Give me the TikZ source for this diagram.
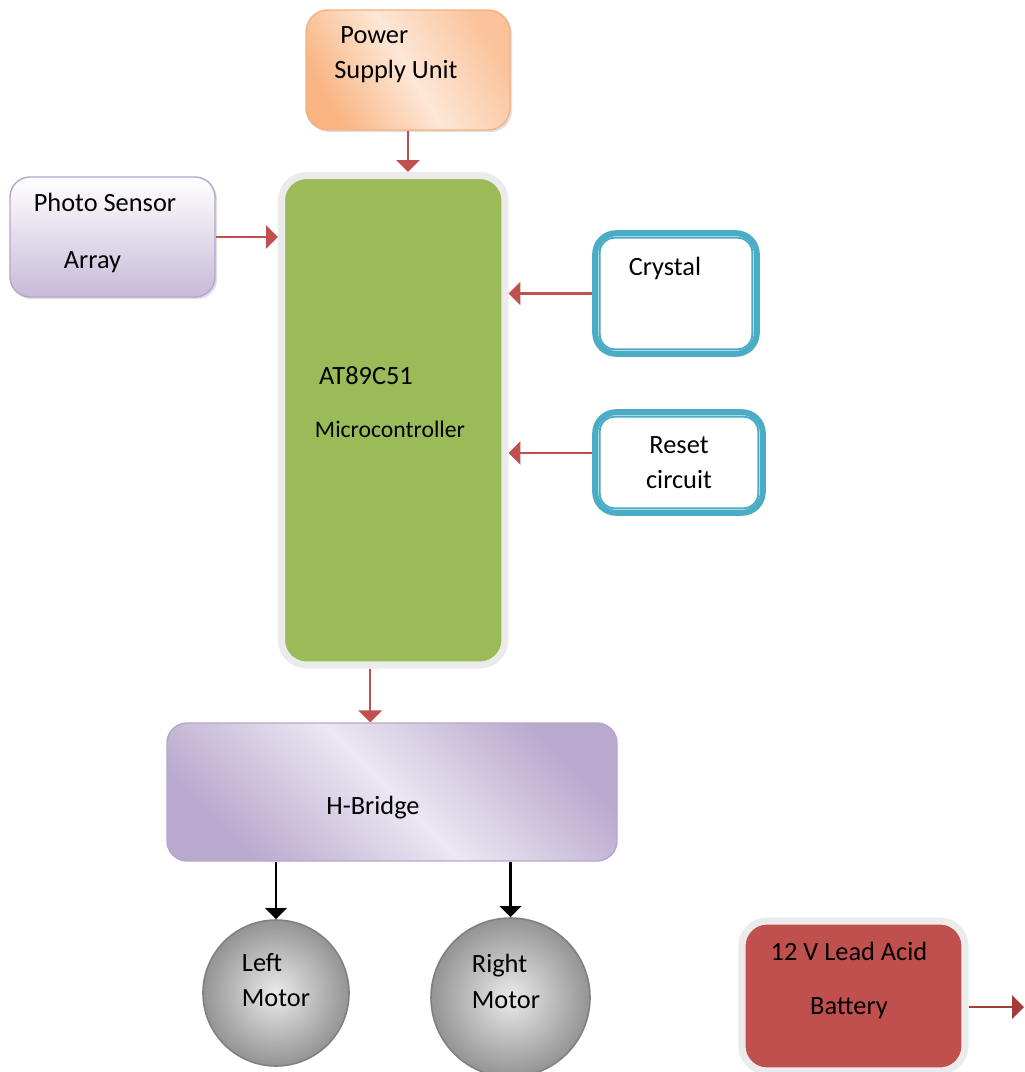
\documentclass[tikz,border=0pt]{standalone}
\usepackage{fontspec}
\setmainfont{Carlito}
\usepackage{tikz}
\usetikzlibrary{arrows,shadows,calc}

\definecolor{psuorange}{HTML}{F9B482}
\definecolor{psulight}{HTML}{FDE7D6}
\definecolor{psuedge}{HTML}{F4B183}
\definecolor{lavdark}{HTML}{B9A9CF}
\definecolor{lavlight}{HTML}{ECE7F2}
\definecolor{lavedge}{HTML}{B7A6CC}
\definecolor{mcugreen}{HTML}{9BBB59}
\definecolor{glowgray}{HTML}{EBEBEB}
\definecolor{xtalblue}{HTML}{4BACC6}
\definecolor{batred}{HTML}{C0504D}
\definecolor{arrowred}{HTML}{C0504D}
\definecolor{batarrow}{HTML}{A33B38}

\begin{document}
\begin{tikzpicture}[thick,
		every node/.style={font=\fontsize{15}{20}\selectfont},
		redarrow/.style={->,>=triangle 90,draw=arrowred,line width=1.4pt},
		blackarrow/.style={->,>=triangle 90,draw=black,line width=1.2pt},
		lavbox/.style={rectangle,rounded corners=0.4cm,draw=lavedge,line width=0.8pt},
		glowbox/.style={rectangle,rounded corners=0.5cm,draw=glowgray,line width=4pt},
		xtalbox/.style={rectangle,rounded corners=0.42cm,draw=xtalblue,line width=3.4pt,fill=white},
		xtalinner/.style={draw=xtalblue,line width=1.1pt,rounded corners=0.3cm},
		motor/.style={circle,draw=black!50,line width=0.9pt,inner color=black!8,outer color=black!42},
		softshadow/.style={drop shadow={shadow xshift=1.2pt,shadow yshift=-1.2pt,opacity=0.25}}]
		\useasboundingbox (0,0) rectangle (20.48,-21.44);

		% boxes
		\node[rectangle,rounded corners=0.44cm,minimum width=4.08cm,minimum height=2.4cm,draw=psuedge,line width=0.8pt,left color=psuorange,right color=psuorange!80,middle color=psulight,shading angle=120,softshadow] (psu) at (8.16,-1.4) {};
		\node[align=left] (psutext) at (7.92,-1.1) {\hspace*{0.12cm}Power\\Supply Unit};

		\node[lavbox,minimum width=4.1cm,minimum height=2.4cm,top color=white,bottom color=lavdark!80,softshadow] (photo) at (2.25,-4.74) {};
		\node[align=center] (phototext) at (2.1,-4.66) {Photo Sensor\\[12pt]Array\hspace*{0.5cm}};

		\node[glowbox,minimum width=4.47cm,minimum height=9.79cm,fill=mcugreen] (mcu) at (7.865,-8.405) {};
		\node (mcuname) at (7.32,-7.52) {AT89C51};
		\node[font=\fontsize{13.5}{16}\selectfont] (mcutype) at (7.8,-8.58) {Microcontroller};

		\node[xtalbox,minimum width=3.233cm,minimum height=2.413cm] (xtal) at (13.52,-5.87) {};
		\draw[xtalinner] ([shift={(0.15,0.15)}]xtal.south west) rectangle ([shift={(-0.15,-0.15)}]xtal.north east);
		\node (xtaltext) at (13.3,-5.36) {Crystal};

		\node[xtalbox,minimum width=3.353cm,minimum height=2.013cm,align=center] (reset) at (13.58,-9.25) {Reset\\circuit};
		\draw[xtalinner] ([shift={(0.15,0.15)}]reset.south west) rectangle ([shift={(-0.15,-0.15)}]reset.north east);

		\node[lavbox,minimum width=9cm,minimum height=2.76cm,left color=lavdark,right color=lavdark,middle color=lavlight,shading angle=135] (hb) at (7.84,-15.84) {};
		\node (hbtext) at (7.46,-16.16) {H-Bridge};

		\node[motor,minimum size=2.92cm] (lm) at (5.52,-19.86) {};
		\node[align=left] (lmtext) at (5.52,-19.6) {Left\\Motor};
		\node[motor,minimum size=3.18cm] (rm) at (10.21,-19.95) {};
		\node[align=left] (rmtext) at (10.12,-19.63) {Right\\Motor};

		\node[glowbox,minimum width=4.46cm,minimum height=3.0cm,fill=batred] (bat) at (17.07,-19.92) {};
		\node[align=center] (battext) at (16.98,-19.61) {12 V Lead Acid\\[11pt]Battery};
		\coordinate (batout) at (20.48,-20.14);

		% connectors
		\draw[redarrow] (psu.south) -- (psu.south |- mcu.north);
		\draw[redarrow] (photo.east) -- (photo.east -| mcu.west);
		\draw[redarrow] (xtal.west) -- (xtal.west -| mcu.east);
		\draw[redarrow] ([yshift=0.19cm]reset.west) -- ([yshift=0.19cm]reset.west -| mcu.east);
		\draw[redarrow] ([xshift=-0.46cm]mcu.south) -- ([xshift=-0.46cm]mcu.south |- hb.north);
		\draw[blackarrow] (lm.north |- hb.south) -- (lm.north);
		\draw[blackarrow] (rm.north |- hb.south) -- (rm.north);
		\draw[redarrow,draw=batarrow] ([yshift=-0.22cm]bat.east) -- (batout);
\end{tikzpicture}
\end{document}
